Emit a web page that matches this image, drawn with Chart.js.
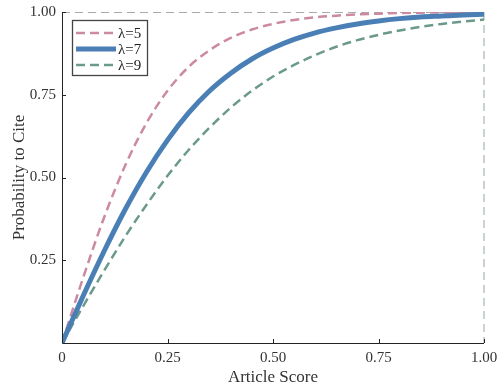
<!DOCTYPE html>
<html>
<head>
<meta charset="utf-8">
<script src="https://cdn.jsdelivr.net/npm/chart.js@4/dist/chart.umd.min.js"></script>
<style>
html,body{margin:0;padding:0;background:#fff;}
#wrap{width:497px;height:392px;position:relative;}
</style>
</head>
<body>
<div id="wrap"><canvas id="c" width="497" height="392"></canvas></div>
<script>
const xScore = [0,0.05,0.1,0.15,0.2,0.25,0.3,0.35,0.4,0.45,0.5,0.55,0.6,0.65,0.7,0.75,0.8,0.85,0.9,0.95,1.0];
const lambda5 = [0,0.197,0.380,0.537,0.664,0.762,0.834,0.885,0.922,0.947,0.964,0.976,0.984,0.989,0.993,0.995,0.997,0.998,0.9985,0.999,0.999];
const lambda7 = [0,0.142,0.278,0.404,0.516,0.613,0.695,0.762,0.815,0.858,0.891,0.917,0.937,0.952,0.964,0.973,0.980,0.985,0.988,0.991,0.993];
const lambda9 = [0,0.111,0.219,0.322,0.417,0.505,0.583,0.651,0.711,0.762,0.805,0.840,0.870,0.895,0.915,0.931,0.944,0.955,0.964,0.971,0.977];
const seriesNames = ['\u03bb=5','\u03bb=7','\u03bb=9'];
const xTicks = [0,0.25,0.5,0.75,1];
const yTicks = [0.25,0.5,0.75,1];

const FONT = '"Liberation Serif","DejaVu Serif",serif';
const pts = arr => xScore.map((x,i)=>({x:x,y:arr[i]}));

const frame = {
  id:'frame',
  beforeDatasetsDraw(chart){
    const {ctx, chartArea:a} = chart;
    ctx.save();
    ctx.setLineDash([8,5]);
    ctx.strokeStyle='#aaaaaa'; ctx.lineWidth=1;
    ctx.beginPath(); ctx.moveTo(a.left,a.top+0.5); ctx.lineTo(a.right,a.top+0.5); ctx.stroke();
    ctx.strokeStyle='#c9d3d0'; ctx.lineWidth=2;
    ctx.beginPath(); ctx.moveTo(a.right,a.top); ctx.lineTo(a.right,a.bottom); ctx.stroke();
    ctx.restore();
  },
  afterDatasetsDraw(chart){
    const {ctx, chartArea:a, scales} = chart;
    ctx.save();
    ctx.strokeStyle='#222'; ctx.lineWidth=1;
    ctx.beginPath(); ctx.moveTo(a.left+0.5,a.top); ctx.lineTo(a.left+0.5,a.bottom+0.5); ctx.lineTo(a.right,a.bottom+0.5); ctx.stroke();
    xTicks.forEach(v=>{const p=Math.round(scales.x.getPixelForValue(v))+0.5; ctx.beginPath(); ctx.moveTo(p,a.bottom); ctx.lineTo(p,a.bottom-4); ctx.stroke();});
    yTicks.forEach(v=>{const p=Math.round(scales.y.getPixelForValue(v))+0.5; ctx.beginPath(); ctx.moveTo(a.left,p); ctx.lineTo(a.left+4,p); ctx.stroke();});
    const bx=a.left+10, by=a.top+8, bw=75, bh=55;
    ctx.fillStyle='#fff'; ctx.fillRect(bx,by,bw,bh);
    ctx.strokeStyle='#444'; ctx.lineWidth=1.3; ctx.strokeRect(bx+0.5,by+0.5,bw,bh);
    chart.data.datasets.forEach((ds,i)=>{
      const yy = by+13+i*16;
      ctx.save();
      ctx.strokeStyle=ds.borderColor; ctx.lineWidth=ds.borderWidth;
      ctx.setLineDash(ds.borderDash||[]);
      ctx.beginPath(); ctx.moveTo(bx+4,yy); ctx.lineTo(bx+44,yy); ctx.stroke();
      ctx.restore();
      ctx.fillStyle='#222'; ctx.font='15px '+FONT; ctx.textBaseline='middle'; ctx.textAlign='left';
      ctx.fillText(ds.label,bx+46,yy+1);
    });
    ctx.restore();
  }
};

new Chart(document.getElementById('c'),{
  type:'line',
  data:{datasets:[
    {label:seriesNames[0],data:pts(lambda5),borderColor:'#cc8aa2',borderWidth:2.5,borderDash:[9,5],pointRadius:0,fill:false,cubicInterpolationMode:'monotone',order:3},
    {label:seriesNames[1],data:pts(lambda7),borderColor:'#4a7fb6',borderWidth:5,pointRadius:0,fill:false,cubicInterpolationMode:'monotone',order:1},
    {label:seriesNames[2],data:pts(lambda9),borderColor:'#6b9a8d',borderWidth:2.5,borderDash:[9,5],pointRadius:0,fill:false,cubicInterpolationMode:'monotone',order:2}
  ]},
  plugins:[frame],
  options:{
    responsive:false, animation:false, devicePixelRatio:1,
    layout:{padding:{top:12,right:13,left:0,bottom:0}},
    plugins:{legend:{display:false},tooltip:{enabled:false}},
    scales:{
      x:{type:'linear',min:0,max:1,
        afterBuildTicks(s){s.ticks=xTicks.map(v=>({value:v}));},
        afterFit(s){s.height=49; s.paddingLeft=0; s.paddingRight=0;},
        grid:{display:false,drawTicks:false},border:{display:false},
        ticks:{padding:6,color:'#333',font:{family:FONT,size:15},callback:v=>v===0?'0':v.toFixed(2),maxRotation:0},
        title:{display:true,text:'Article Score',color:'#333',font:{family:FONT,size:17},padding:{top:0}}},
      y:{type:'linear',min:0,max:1,
        afterBuildTicks(s){s.ticks=yTicks.map(v=>({value:v}));},
        afterFit(s){s.width=62; s.paddingTop=0; s.paddingBottom=0;},
        grid:{display:false,drawTicks:false},border:{display:false},
        ticks:{padding:6,color:'#333',font:{family:FONT,size:15},callback:v=>v.toFixed(2)},
        title:{display:true,text:'Probability to Cite',color:'#333',font:{family:FONT,size:17},padding:{top:9,bottom:0}}}
    }
  }
});
</script>
</body>
</html>
